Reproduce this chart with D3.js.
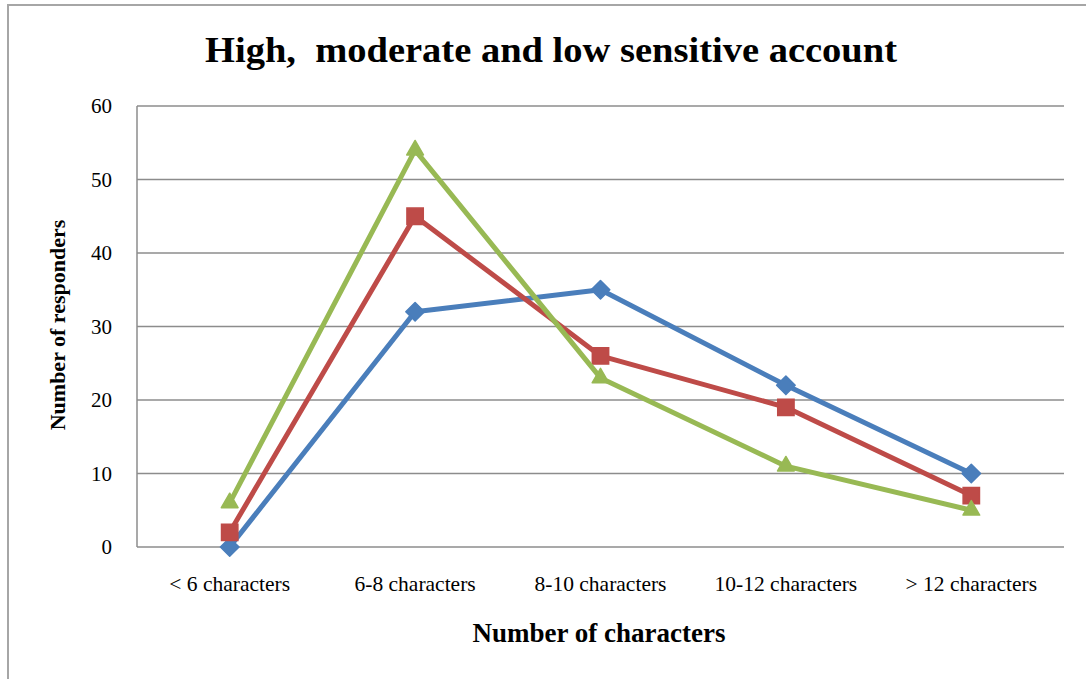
<!DOCTYPE html>
<html>
<head>
<meta charset="utf-8">
<script src="https://cdn.jsdelivr.net/npm/d3@7"></script>
<style>
  html, body { margin: 0; padding: 0; background: #fff; }
  svg { display: block; }
  text { font-family: "Liberation Serif", "Times New Roman", serif; fill: #000; }
</style>
</head>
<body>
<svg id="chart" width="1086" height="679"></svg>
<script>
// Chart data
const categories = ["< 6 characters", "6-8 characters", "8-10 characters", "10-12 characters", "> 12 characters"];
const highValues = [0, 32, 35, 22, 10];
const moderateValues = [2, 45, 26, 19, 7];
const lowValues = [6, 54, 23, 11, 5];
const yTicks = [0, 10, 20, 30, 40, 50, 60];

const seriesList = [
  { name: "High", values: highValues, color: "#4a7ebb", marker: "diamond" },
  { name: "Moderate", values: moderateValues, color: "#be4b48", marker: "square" },
  { name: "Low", values: lowValues, color: "#98b954", marker: "triangle" }
];

const svg = d3.select("#chart");
const W = 1086, H = 679;
const plot = { left: 137, right: 1064, top: 106, bottom: 547 };

// Outer chart frame (runs past the right and bottom edges)
svg.append("rect")
  .attr("x", 8).attr("y", 5)
  .attr("width", W + 20).attr("height", H + 20)
  .attr("fill", "#fff")
  .attr("stroke", "#a6a6a6").attr("stroke-width", 2);

const x = d3.scaleBand().domain(categories).range([plot.left, plot.right]).padding(0);
const y = d3.scaleLinear().domain([0, 60]).range([plot.bottom, plot.top]);
const cx = c => x(c) + x.bandwidth() / 2;

// Horizontal gridlines
svg.append("g")
  .selectAll("line")
  .data(yTicks)
  .join("line")
  .attr("x1", plot.left).attr("x2", plot.right)
  .attr("y1", d => y(d)).attr("y2", d => y(d))
  .attr("stroke", "#8c8c8c").attr("stroke-width", 1.5);

// Left axis line
svg.append("line")
  .attr("x1", plot.left).attr("x2", plot.left)
  .attr("y1", plot.top).attr("y2", plot.bottom)
  .attr("stroke", "#8c8c8c").attr("stroke-width", 1.5);

// Y axis tick labels
const yAxis = d3.axisLeft(y).tickValues(yTicks).tickSize(0).tickPadding(0);
const yg = svg.append("g").attr("transform", `translate(${plot.left - 25},0)`).call(yAxis);
yg.select(".domain").remove();
yg.selectAll("text")
  .attr("font-family", "Liberation Serif, serif")
  .attr("font-size", 21)
  .attr("fill", "#000");

// X axis category labels
const xAxis = d3.axisBottom(x).tickSize(0).tickPadding(0);
const xg = svg.append("g").attr("transform", `translate(0,${plot.bottom + 29})`).call(xAxis);
xg.select(".domain").remove();
xg.selectAll("text")
  .attr("font-family", "Liberation Serif, serif")
  .attr("font-size", 21.5)
  .attr("fill", "#000");

// Series lines and markers
const line = d3.line().x((d, i) => cx(categories[i])).y(d => y(d));
const symbolMap = {
  diamond: d3.symbol().type(d3.symbolDiamond2).size(220),
  square: d3.symbol().type(d3.symbolSquare2).size(340),
  triangle: d3.symbol().type(d3.symbolTriangle2).size(200)
};

seriesList.forEach(s => {
  const g = svg.append("g");
  g.append("path")
    .datum(s.values)
    .attr("d", line)
    .attr("fill", "none")
    .attr("stroke", s.color)
    .attr("stroke-width", 5)
    .attr("stroke-linejoin", "round");
  g.selectAll("path.m")
    .data(s.values)
    .join("path")
    .attr("class", "m")
    .attr("transform", (d, i) => `translate(${cx(categories[i])},${y(d)})`)
    .attr("d", symbolMap[s.marker])
    .attr("fill", s.color)
    .attr("stroke", s.color)
    .attr("stroke-width", 1.5)
    .attr("stroke-linejoin", s.marker === "square" ? "miter" : "round");
});

// Title
svg.append("text")
  .attr("x", 551).attr("y", 62)
  .attr("text-anchor", "middle")
  .attr("font-size", 35)
  .attr("font-weight", "bold")
  .attr("textLength", 692)
  .attr("lengthAdjust", "spacingAndGlyphs")
  .attr("xml:space", "preserve")
  .style("white-space", "pre")
  .text("High,  moderate and low sensitive account");

// Axis titles
svg.append("text")
  .attr("x", 599).attr("y", 642)
  .attr("text-anchor", "middle")
  .attr("font-size", 27)
  .attr("font-weight", "bold")
  .text("Number of characters");

svg.append("text")
  .attr("transform", "translate(65,325) rotate(-90)")
  .attr("text-anchor", "middle")
  .attr("font-size", 22)
  .attr("font-weight", "bold")
  .text("Number of responders");
</script>
</body>
</html>
